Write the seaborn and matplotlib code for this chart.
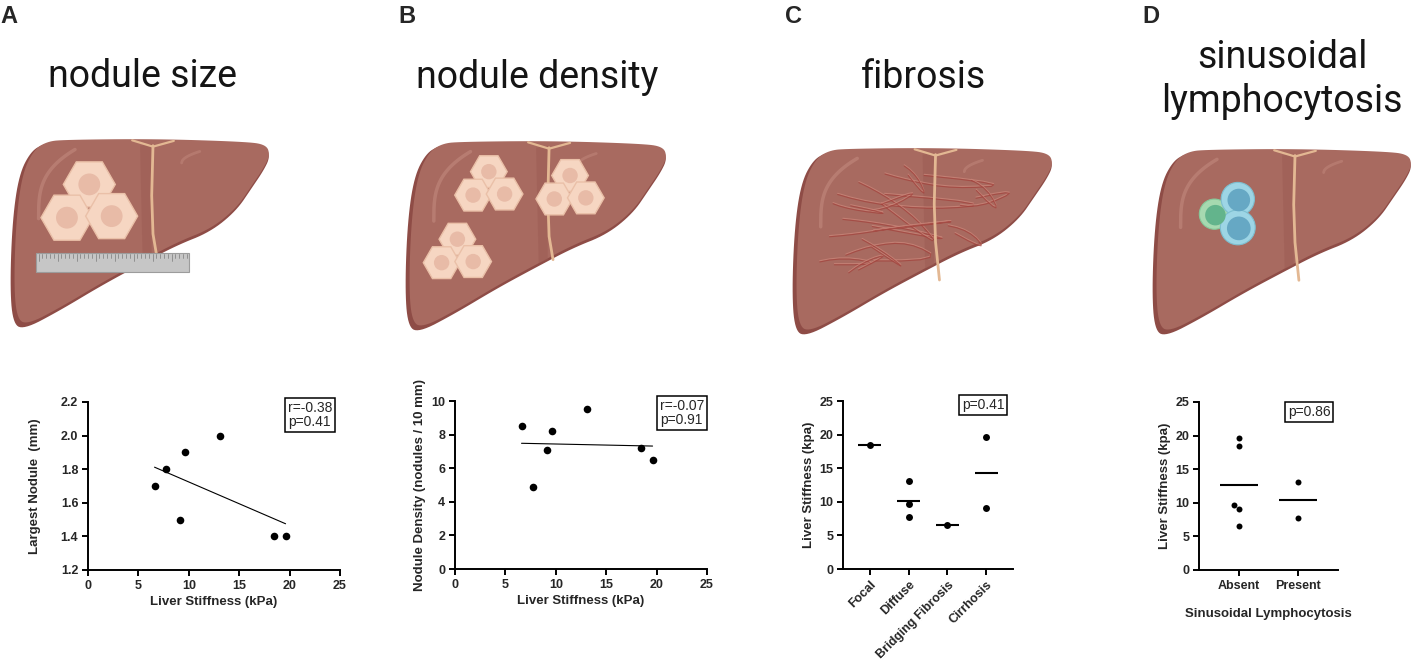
"""
Liver stiffness vs histology panels (A-D) with simple liver sketches on top.
"""

import numpy as np
import pandas as pd
import matplotlib
matplotlib.use("Agg")
import matplotlib.pyplot as plt
from matplotlib.patches import Polygon, Circle, Rectangle, RegularPolygon
import seaborn as sns

# ---- data -------------------------------------------------------------
# one value per patient, same order in every list
stiffness = [6.6, 7.7, 9.1, 9.6, 13.1, 18.5, 19.6]          # kPa
largest_nodule = [1.7, 1.8, 1.5, 1.9, 2.0, 1.4, 1.4]        # mm
nodule_density = [8.5, 4.9, 7.1, 8.2, 9.5, 7.2, 6.5]        # nodules / 10 mm

fibrosis_order = ["Focal", "Diffuse", "Bridging Fibrosis", "Cirrhosis"]
fibrosis_group = ["Bridging Fibrosis", "Diffuse", "Cirrhosis", "Diffuse",
                  "Diffuse", "Focal", "Cirrhosis"]

lympho_order = ["Absent", "Present"]
lympho_group = ["Absent", "Present", "Absent", "Absent",
                "Present", "Absent", "Absent"]

stats_a = "r=-0.38\np=0.41"
stats_b = "r=-0.07\np=0.91"
stats_c = "p=0.41"
stats_d = "p=0.86"

stiffness_ticks = [0, 5, 10, 15, 20, 25]
nodule_ticks = [1.2, 1.4, 1.6, 1.8, 2.0, 2.2]
density_ticks = [0, 2, 4, 6, 8, 10]
kpa_ticks = [0, 5, 10, 15, 20, 25]

titles = ["nodule size", "nodule density", "fibrosis",
          "sinusoidal", "lymphocytosis"]

# ---- layout helpers ---------------------------------------------------
W, H = 1412, 661

sns.set_theme(style="ticks")
plt.rcParams["font.family"] = ["Liberation Sans", "DejaVu Sans"]
# GraphPad-style bold axis text everywhere; plain text is set per call
plt.rcParams["font.weight"] = "bold"
plt.rcParams["xtick.labelsize"] = 9
plt.rcParams["ytick.labelsize"] = 9

fig = plt.figure(figsize=(W / 100, H / 100), dpi=100)


def px_axes(x0, y0, x1, y1):
    """Axes from pixel box (top-left origin)."""
    return fig.add_axes([x0 / W, 1 - y1 / H, (x1 - x0) / W, (y1 - y0) / H])


def fig_text(x, y, s, **kw):
    return fig.text(x / W, 1 - y / H, s, **kw)


# ---- liver sketch -----------------------------------------------------
LIVER = np.array([
    (0.19, 0.02), (0.55, 0.015), (0.90, 0.03), (0.985, 0.045), (1.0, 0.10),
    (0.975, 0.17), (0.93, 0.26), (0.87, 0.38), (0.77, 0.49), (0.64, 0.56),
    (0.50, 0.66), (0.35, 0.77), (0.19, 0.90), (0.05, 1.0), (0.01, 0.96),
    (0.0, 0.76), (0.01, 0.42), (0.035, 0.19), (0.08, 0.07), (0.13, 0.03),
])


def chaikin(pts, n=3):
    for _ in range(n):
        nxt = np.roll(pts, -1, axis=0)
        pts = np.stack([0.75 * pts + 0.25 * nxt,
                        0.25 * pts + 0.75 * nxt], axis=1).reshape(-1, 2)
    return pts


def hex_cell(ax, cx, cy, r):
    ax.add_patch(RegularPolygon((cx, cy), 6, radius=r, orientation=np.pi / 6,
                                fc="#F6D6C2", ec="#EAC0A8", lw=1, zorder=4))
    ax.add_patch(Circle((cx, cy), r * 0.42, fc="#E8BBA7", ec="none", zorder=5))


def cluster(ax, cx, cy, r):
    for dx, dy in [(0, -0.8), (-0.86, 0.48), (0.86, 0.42)]:
        hex_cell(ax, cx + dx * r, cy + dy * r, r)


def draw_liver(box, kind):
    x0, y0, x1, y1 = box
    w, h = x1 - x0, y1 - y0
    ax = px_axes(*box)
    ax.set_xlim(0, w)
    ax.set_ylim(h, 0)
    ax.axis("off")

    pts = chaikin(LIVER * [w, h])
    ax.add_patch(Polygon(pts, closed=True, fc="#8E4C46", ec="none"))
    inner = (pts - [w, 0]) * 0.985 + [w, 0] + [0, -2]
    ax.add_patch(Polygon(inner, closed=True, fc="#A86A60", ec="none"))
    # darker band beside the ligament
    ax.add_patch(Polygon(np.array([(0.50, 0.04), (0.545, 0.03), (0.545, 0.62),
                                   (0.51, 0.64)]) * [w, h],
                         fc="#9C5C54", ec="none", alpha=0.5))
    # highlights
    t = np.linspace(0, 1, 30)
    ax.plot((0.11 + 0.14 * t ** 1.6) * w, (0.42 - 0.36 * np.sqrt(t)) * h,
            color="#BE8479", lw=2.5, alpha=0.7, solid_capstyle="round")
    ax.plot((0.66 + 0.07 * t) * w, (0.13 - 0.06 * np.sqrt(t)) * h,
            color="#BE8479", lw=2, alpha=0.6, solid_capstyle="round")
    # falciform ligament
    end = 0.70 if kind in ("fibrosis", "lympho") else 0.62
    ax.plot(np.array([0.55, 0.545, 0.55, 0.565]) * w,
            np.array([0.04, 0.3, 0.5, end]) * h,
            color="#E3B893", lw=2, solid_capstyle="round", zorder=3)
    ax.plot(np.array([0.47, 0.55, 0.63]) * w, np.array([0.012, 0.045, 0.015]) * h,
            color="#E3B893", lw=1.6, zorder=3)

    if kind == "size":
        cluster(ax, 0.305 * w, 0.35 * h, 0.1 * w)
        ax.add_patch(Rectangle((0.10 * w, 0.60 * h), 0.59 * w, 0.10 * h,
                               fc="#C6C6C6", ec="#9C9C9C", lw=0.8, zorder=6))
        for i, xt in enumerate(np.linspace(0.11, 0.68, 40)):
            ax.plot([xt * w] * 2, [0.605 * h, (0.625 if i % 5 else 0.64) * h],
                    color="#7A7A7A", lw=0.5, zorder=7)
    elif kind == "density":
        for cx, cy in [(0.32, 0.24), (0.63, 0.26), (0.20, 0.59)]:
            cluster(ax, cx * w, cy * h, 0.07 * w)
    elif kind == "fibrosis":
        strands = [
            [(0.10, 0.22), (0.30, 0.30), (0.55, 0.33), (0.78, 0.30)],
            [(0.12, 0.37), (0.32, 0.40), (0.50, 0.45), (0.62, 0.50)],
            [(0.20, 0.15), (0.35, 0.25), (0.48, 0.38), (0.58, 0.55)],
            [(0.08, 0.48), (0.25, 0.46), (0.42, 0.42), (0.70, 0.38)],
            [(0.15, 0.60), (0.30, 0.52), (0.45, 0.50), (0.58, 0.60)],
            [(0.05, 0.62), (0.20, 0.58), (0.35, 0.62)],
            [(0.30, 0.12), (0.45, 0.18), (0.62, 0.22), (0.85, 0.20)],
            [(0.55, 0.40), (0.68, 0.44), (0.75, 0.55)],
            [(0.18, 0.70), (0.28, 0.60), (0.38, 0.56)],
            [(0.40, 0.07), (0.48, 0.15), (0.52, 0.28)],
            [(0.60, 0.30), (0.72, 0.32), (0.88, 0.22)],
            [(0.25, 0.35), (0.38, 0.32), (0.50, 0.22)],
            [(0.12, 0.28), (0.22, 0.33), (0.40, 0.36)],
            [(0.65, 0.15), (0.75, 0.22), (0.80, 0.36)],
            [(0.22, 0.45), (0.35, 0.55), (0.45, 0.66)],
        ]
        for s in strands:
            s = chaikin(np.array(s), 2)[:-2] * [w, h]
            ax.plot(s[:, 0], s[:, 1] - 1.2, color="#C98478", lw=0.8, alpha=0.8)
            ax.plot(s[:, 0], s[:, 1], color="#A3433D", lw=0.8, alpha=0.75)
    elif kind == "lympho":
        for (cx, cy, r, outer, core, edge) in [
                (0.24, 0.35, 0.058, "#A6D9B0", "#63B48C", "#86C99A"),
                (0.33, 0.27, 0.064, "#9DD5E5", "#66A8C4", "#7DBFD0"),
                (0.33, 0.42, 0.067, "#9DD5E5", "#66A8C4", "#7DBFD0")]:
            ax.add_patch(Circle((cx * w, cy * h), r * w, fc=outer,
                                ec=edge, lw=0.8, zorder=4))
            ax.add_patch(Circle((cx * w + 1, cy * h + 1), r * w * 0.68,
                                fc=core, ec="none", zorder=5))


draw_liver((10, 138, 270, 330), "size")
draw_liver((405, 140, 667, 333), "density")
draw_liver((792, 147, 1053, 337), "fibrosis")
draw_liver((1152, 148, 1412, 337), "lympho")

# ---- titles and panel letters ----------------------------------------
title_kw = dict(ha="center", va="baseline", fontsize=27, fontweight="normal",
                family=["Roboto", "DejaVu Sans"], color="#151515")
fig_text(142, 87, titles[0], **title_kw)
fig_text(537, 88, titles[1], **title_kw)
fig_text(923, 88, titles[2], **title_kw)
fig_text(1282, 68, titles[3], **title_kw)
fig_text(1282, 112, titles[4], **title_kw)

for x, letter in [(0, "A"), (398, "B"), (785, "C"), (1142, "D")]:
    fig_text(x, 5, letter, fontsize=17, fontweight="bold", va="top", ha="left")


# ---- plots ------------------------------------------------------------
TICK_FONT = dict(fontsize=9, fontweight="bold")
CAT_FONT = dict(fontsize=9, fontweight="bold")
label_kw = dict(fontsize=9.5, fontweight="bold")
box_kw = dict(ha="center", va="center", fontsize=10, fontweight="normal",
              linespacing=1.05, multialignment="left",
              bbox=dict(boxstyle="square,pad=0.22", fc="white", ec="black", lw=1.1))


def style_axes(ax):
    sns.despine(ax=ax)
    for side in ("left", "bottom"):
        ax.spines[side].set_linewidth(1.4)
        ax.spines[side].set_color("black")
    ax.tick_params(direction="out", length=4, width=1.4, color="black", pad=3)


def num_labels(ticks, fmt="{:g}"):
    return [fmt.format(v) for v in ticks]


# A: largest nodule
ax = px_axes(88, 402, 340, 570)
sns.regplot(x=stiffness, y=largest_nodule, ci=None, ax=ax,
            scatter_kws=dict(s=30, color="black", alpha=1, linewidths=0,
                             clip_on=False),
            line_kws=dict(color="black", lw=0.8))
style_axes(ax)
ax.set_xlim(0, 25)
ax.set_ylim(1.2, 2.2)
ax.set_xticks(stiffness_ticks, labels=num_labels(stiffness_ticks), **TICK_FONT)
ax.set_yticks(nodule_ticks, labels=num_labels(nodule_ticks, "{:.1f}"), **TICK_FONT)
ax.set_xlabel("Liver Stiffness (kPa)", labelpad=3, **label_kw)
ax.set_ylabel("Largest Nodule  (mm)", labelpad=14, **label_kw)
fig_text(310, 415, stats_a, **box_kw)

# B: nodule density
ax = px_axes(455, 401, 707, 569)
sns.regplot(x=stiffness, y=nodule_density, ci=None, ax=ax,
            scatter_kws=dict(s=30, color="black", alpha=1, linewidths=0,
                             clip_on=False),
            line_kws=dict(color="black", lw=0.8))
style_axes(ax)
ax.set_xlim(0, 25)
ax.set_ylim(0, 10)
ax.set_xticks(stiffness_ticks, labels=num_labels(stiffness_ticks), **TICK_FONT)
ax.set_yticks(density_ticks, labels=num_labels(density_ticks), **TICK_FONT)
ax.set_xlabel("Liver Stiffness (kPa)", labelpad=3, **label_kw)
ax.set_ylabel("Nodule Density (nodules / 10 mm)", labelpad=4, **label_kw)
fig_text(682, 413, stats_b, **box_kw)


def group_panel(box, groups, order, size, half, stats, stats_xy):
    ax = px_axes(*box)
    df = pd.DataFrame({"group": groups, "kpa": stiffness})
    sns.swarmplot(data=df, x="group", y="kpa", order=order, color="black",
                  size=size, ax=ax, clip_on=False)
    means = df.groupby("group")["kpa"].mean().reindex(order)
    ax.hlines(means.values, np.arange(len(order)) - half,
              np.arange(len(order)) + half, color="black", lw=1.5)
    style_axes(ax)
    ax.set_xlim(-0.68, len(order) - 0.32)
    ax.set_ylim(0, 25)
    ax.set_yticks(kpa_ticks, labels=num_labels(kpa_ticks), **TICK_FONT)
    ax.set_ylabel("Liver Stiffness (kpa)", labelpad=3, **label_kw)
    fig_text(*stats_xy, stats, **box_kw)
    return ax


# C: fibrosis pattern
ax = group_panel((843, 401, 1013, 569), fibrosis_group, fibrosis_order,
                 5, 0.3, stats_c, (983, 405))
ax.set_xlabel("")
ax.set_xticks(range(len(fibrosis_order)), labels=fibrosis_order, rotation=45,
              ha="right", rotation_mode="anchor", **CAT_FONT)

# D: sinusoidal lymphocytosis
ax = group_panel((1199, 402, 1338, 570), lympho_group, lympho_order,
                 4.3, 0.32, stats_d, (1309, 412))
ax.set_xticks(range(len(lympho_order)), labels=lympho_order, **CAT_FONT)
ax.set_xlabel("Sinusoidal Lymphocytosis", labelpad=12, **label_kw)

fig.savefig("out.png", dpi=100)
